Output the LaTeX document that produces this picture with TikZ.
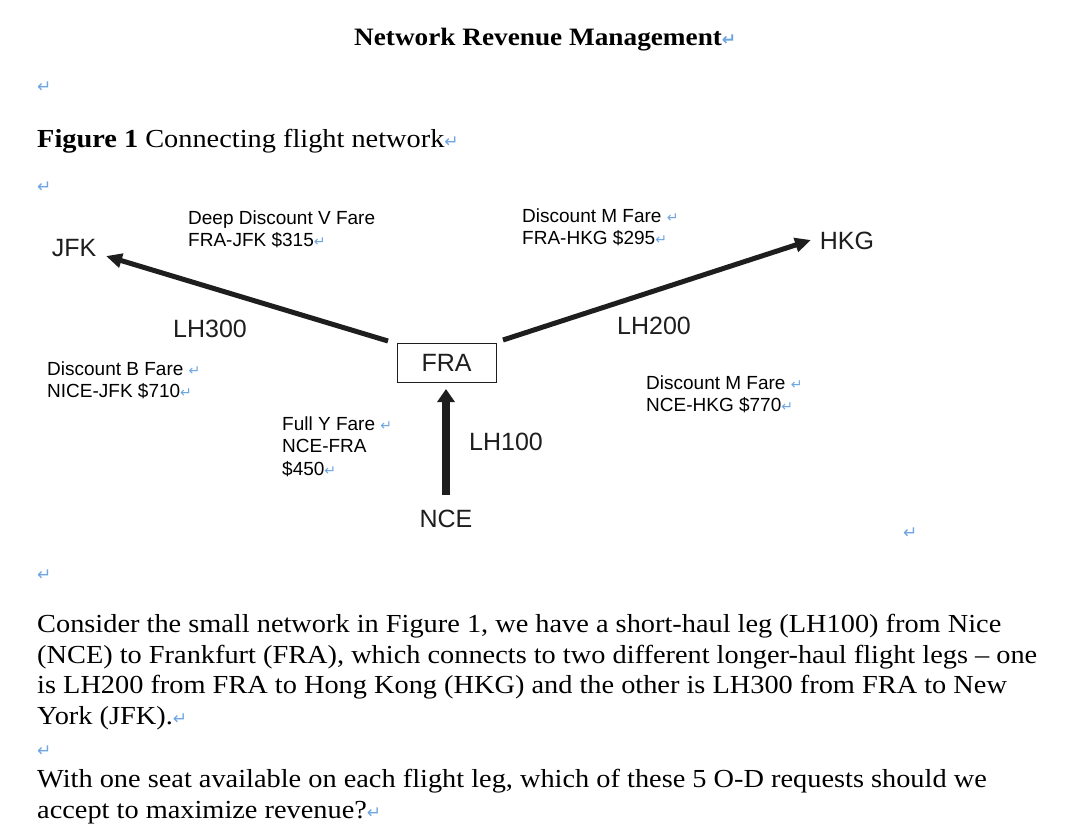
\documentclass[tikz,border=0pt]{standalone}
\usepackage{fontspec}
\setmainfont[FakeStretch=1.09]{Liberation Serif}
\newfontfamily\arial{Liberation Sans}
\newfontfamily\symf{DejaVu Sans}
\usetikzlibrary{arrows.meta}
\definecolor{pm}{RGB}{110,165,225}
\definecolor{ink}{RGB}{30,30,30}
\newcommand{\pmk}{{\symf\fontsize{14}{14}\selectfont\color{pm}↵}}
\newcommand{\pmkb}{{\symf\fontsize{17}{17}\selectfont\color{pm}↵}}
\tikzset{
  lbl/.style={font=\arial\fontsize{19}{22}\selectfont, anchor=base west, inner sep=0},
  city/.style={font=\arial\fontsize{25}{28}\selectfont, inner sep=0, text=ink},
  body/.style={font=\fontsize{26}{31}\selectfont, anchor=base west, inner sep=0},
  pmark/.style={anchor=base west, inner sep=0},
  leg/.style={-{Triangle[length=16pt,width=14pt]}, line width=5pt, draw=ink},
}
\begin{document}
\begin{tikzpicture}[x=1pt,y=-1pt]
\useasboundingbox[fill=white] (0,0) rectangle (1068,836);
% heading
\node[body, font=\bfseries\fontsize{25}{31}\selectfont] (title) at (354,45) {Network Revenue Management\pmkb};
\node[pmark] (p1) at (37,92) {\pmkb};
\node[body] (cap) at (37,147) {\textbf{Figure 1} Connecting flight network\pmkb};
\node[pmark] (p2) at (37,192) {\pmkb};
% cities
\node[city] (JFK) at (74,248) {JFK};
\node[city] (HKG) at (847,241) {HKG};
\node[city] (NCE) at (446,519) {NCE};
\node[city, draw=ink, line width=1pt, minimum width=99pt, minimum height=39pt] (FRA) at (446.5,362.5) {FRA};
% leg labels
\node[city] (LH300) at (210,329) {LH300};
\node[city] (LH200) at (654,326) {LH200};
\node[city] (LH100) at (506,442) {LH100};
% connectors
\coordinate (jfkT) at (388,341); \coordinate (jfkH) at (106,256);
\coordinate (hkgT) at (503,340); \coordinate (hkgH) at (811,240);
\coordinate (nceT) at (446,495); \coordinate (nceH) at (446,389);
\draw[leg] (jfkT) -- (jfkH);
\draw[leg] (hkgT) -- (hkgH);
\draw[leg, line width=8pt, -{Triangle[length=13pt,width=17pt]}] (nceT) -- (nceH);
% fare labels
\node[lbl] (v1) at (188,224) {Deep Discount V Fare};
\node[lbl] (v2) at (188,246) {FRA-JFK \$315\pmk};
\node[lbl] (m1) at (522,222) {Discount M Fare \pmk};
\node[lbl] (m2) at (522,244) {FRA-HKG \$295\pmk};
\node[lbl] (b1) at (47,375) {Discount B Fare \pmk};
\node[lbl] (b2) at (47,397) {NICE-JFK \$710\pmk};
\node[lbl] (n1) at (646,389) {Discount M Fare \pmk};
\node[lbl] (n2) at (646,411) {NCE-HKG \$770\pmk};
\node[lbl] (y1) at (282,430) {Full Y Fare \pmk};
\node[lbl] (y2) at (282,452) {NCE-FRA};
\node[lbl] (y3) at (282,475) {\$450\pmk};
\node[pmark] (p3) at (903,538) {\pmkb};
\node[pmark] (p4) at (37,580) {\pmkb};
% body text
\node[body] (l1) at (37,632) {Consider the small network in Figure 1, we have a short-haul leg (LH100) from Nice};
\node[body] (l2) at (37,663) {(NCE) to Frankfurt (FRA), which connects to two different longer-haul flight legs -- one};
\node[body] (l3) at (37,693) {is LH200 from FRA to Hong Kong (HKG) and the other is LH300 from FRA to New};
\node[body] (l4) at (37,724) {York (JFK).\pmkb};
\node[pmark] (p5) at (37,756) {\pmkb};
\node[body] (l6) at (37,787) {With one seat available on each flight leg, which of these 5 O-D requests should we};
\node[body] (l7) at (37,818) {accept to maximize revenue?\pmkb};
\end{tikzpicture}
\end{document}
